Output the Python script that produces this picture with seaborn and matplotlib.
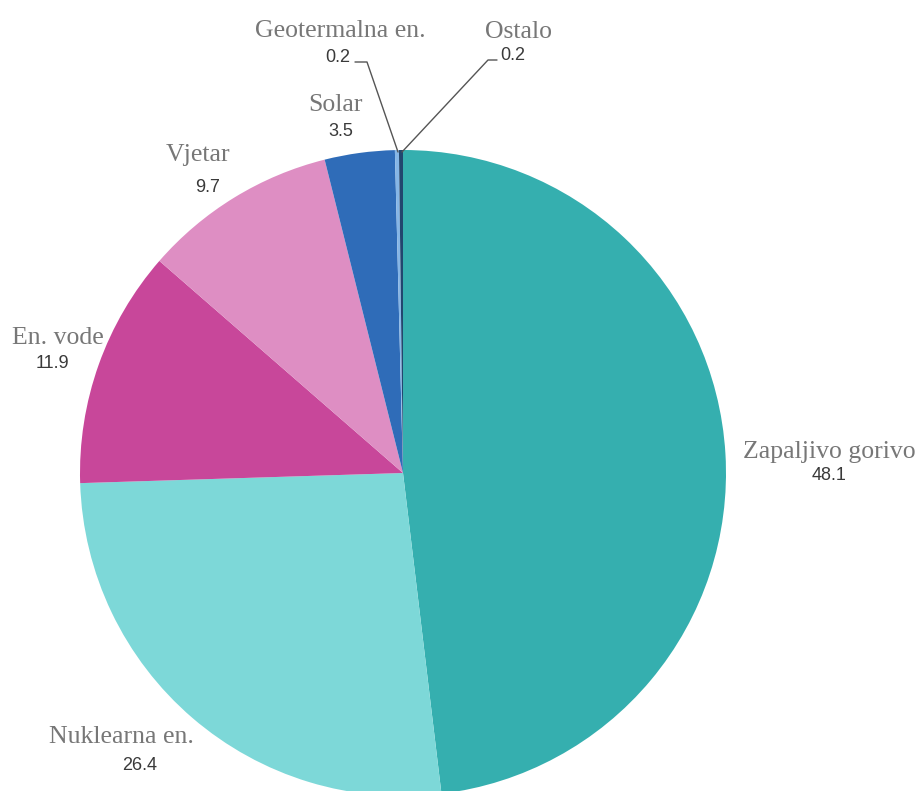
import matplotlib.pyplot as plt
import seaborn as sns

# Data
labels = ['Zapaljivo gorivo', 'Nuklearna en.', 'En. vode', 'Vjetar', 'Solar',
          'Geotermalna en.', 'Ostalo']
values = [48.1, 26.4, 11.9, 9.7, 3.5, 0.2, 0.2]
colors = ['#35AFAF', '#7DD8D8', '#C8479A', '#DE8EC3', '#2F6CB8', '#86B6E6', '#22466F']

sns.set_theme(style='white')

W, H = 917, 791
fig = plt.figure(figsize=(W / 100, H / 100), dpi=100)
ax = fig.add_axes([0, 0, 1, 1])

# Pie in pixel-like coordinates (y flipped so pixel rows map from the top)
cx, cy, r = 403, 473, 323
ax.pie(values, colors=sns.color_palette(colors), startangle=90, counterclock=False,
       center=(cx, H - cy), radius=r, wedgeprops={'linewidth': 0})
ax.set_xlim(0, W)
ax.set_ylim(0, H)
ax.set_aspect('equal')
ax.axis('off')

# Label layout: (name x, name y, value x, value y) in pixels from top-left
label_pos = {
    'Zapaljivo gorivo': (829, 452, 829, 476),
    'Nuklearna en.': (121, 737, 140, 765),
    'En. vode': (58, 338, 52, 363),
    'Vjetar': (198, 155, 208, 187),
    'Solar': (336, 105, 341, 131),
    'Geotermalna en.': (340, 31, 338, 58),
    'Ostalo': (518, 32, 513, 56),
}

for name, val in zip(labels, values):
    nx, ny, vx, vy = label_pos[name]
    ax.text(nx, H - ny, name, ha='center', va='center', fontsize=18.5,
            family='Liberation Serif', color='#777777')
    ax.text(vx, H - vy, f'{val}', ha='center', va='center', fontsize=13,
            family='Liberation Sans', color='#3a3a3a')

# Leader lines for the two tiny slices
ax.plot([355, 367, 398], [H - 62, H - 62, H - 152], color='#555555', lw=1)
ax.plot([497, 488, 402], [H - 60, H - 60, H - 152], color='#555555', lw=1)

fig.savefig('out.png', dpi=100)
